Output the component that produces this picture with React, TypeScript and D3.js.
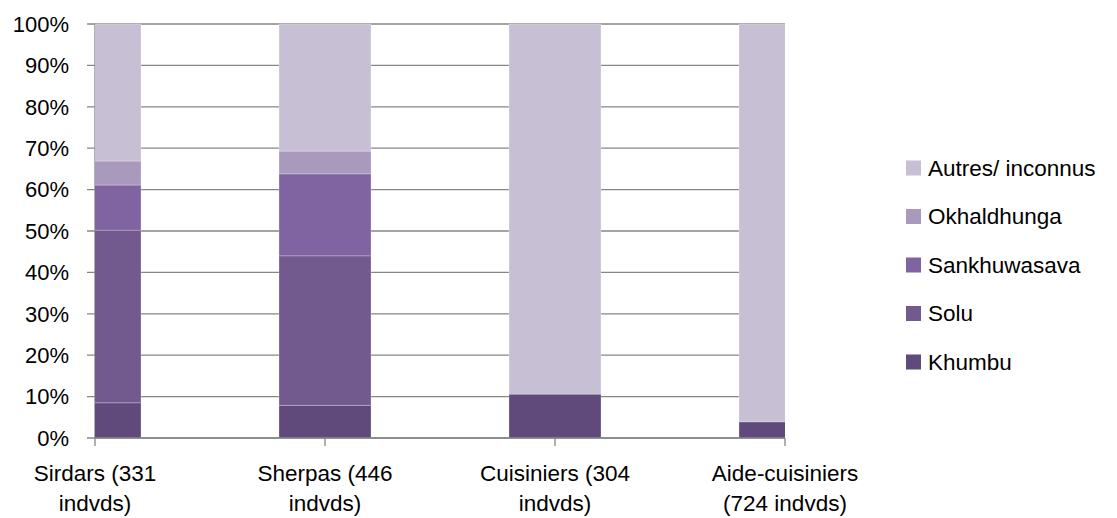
import React from "react";
import * as d3 from "d3";

const categories = ["Sirdars (331|indvds)", "Sherpas (446|indvds)", "Cuisiniers (304|indvds)", "Aide-cuisiniers|(724 indvds)"];
const seriesNames = ["Khumbu", "Solu", "Sankhuwasava", "Okhaldhunga", "Autres/ inconnus"];
const khumbu = [8.5, 7.9, 10.6, 3.9];
const solu = [41.7, 36.1, 0, 0];
const sankhuwasava = [10.9, 19.8, 0, 0];
const okhaldhunga = [5.8, 5.5, 0, 0];
const autres = [33.1, 30.7, 89.4, 96.1];
const colors = ["#604a7b", "#725a8f", "#8064a2", "#a99abd", "#c7c0d4"];
const yTicks = [0, 0.1, 0.2, 0.3, 0.4, 0.5, 0.6, 0.7, 0.8, 0.9, 1];

const W = 1117, H = 518;
const left = 95, right = 785, top = 24, bottom = 438;
const FONT = "'Liberation Sans', Arial, sans-serif";

export default function App() {
  const seriesValues = [khumbu, solu, sankhuwasava, okhaldhunga, autres];
  const rows = categories.map((c, i) => {
    const r: any = { cat: c };
    seriesNames.forEach((s, j) => (r[s] = seriesValues[j][i]));
    const total = seriesNames.reduce((a, s) => a + r[s], 0);
    seriesNames.forEach((s) => (r[s] = r[s] / total));
    return r;
  });
  const stack = d3.stack<any>().keys(seriesNames)(rows);
  const x = d3.scalePoint<string>().domain(categories).range([left, right]);
  const y = d3.scaleLinear().domain([0, 1]).range([bottom, top]);
  const step = x.step();
  const barW = step / 2.5;

  return (
    <svg width={W} height={H} style={{ position: "absolute", left: 0, top: 0, background: "#fff" }}>
      <defs>
        <clipPath id="plot">
          <rect x={left} y={top - 1} width={right - left} height={bottom - top + 2} />
        </clipPath>
      </defs>
      {yTicks.map((t) => (
        <g key={t}>
          <line x1={left - 8} x2={right} y1={y(t)} y2={y(t)} stroke="#868686" strokeWidth={1.3} />
          <text x={69} y={y(t)} dy="0.35em" textAnchor="end" fontFamily={FONT} fontSize={22} fill="#000">
            {d3.format(".0%")(t)}
          </text>
        </g>
      ))}
      <line x1={left} x2={left} y1={top} y2={bottom} stroke="#868686" strokeWidth={1.3} />
      <g clipPath="url(#plot)">
        {stack.map((s, j) => (
          <g key={s.key} fill={colors[j]}>
            {s.map((d, i) =>
              d[1] - d[0] > 0 ? (
                <rect
                  key={i}
                  x={(x(categories[i]) as number) - barW / 2}
                  y={y(d[1])}
                  width={barW}
                  height={y(d[0]) - y(d[1])}
                  stroke="rgba(255,255,255,0.3)"
                  strokeWidth={0.8}
                />
              ) : null
            )}
          </g>
        ))}
      </g>
      <line x1={left} x2={right} y1={bottom} y2={bottom} stroke="#868686" strokeWidth={1.3} />
      {categories.map((c) => {
        const cx = x(c) as number;
        const lines = c.split("|");
        return (
          <g key={c}>
            <line x1={cx} x2={cx} y1={bottom} y2={bottom + 8} stroke="#868686" strokeWidth={1.3} />
            {lines.map((l, k) => (
              <text key={k} x={cx} y={481 + k * 30} textAnchor="middle" fontFamily={FONT} fontSize={22.5} fill="#000">
                {l}
              </text>
            ))}
          </g>
        );
      })}
      {seriesNames
        .slice()
        .reverse()
        .map((s, k) => {
          const j = seriesNames.length - 1 - k;
          const cy = 168 + k * 48.5;
          return (
            <g key={s}>
              <rect x={906} y={cy - 7.5} width={15} height={15} fill={colors[j]} />
              <text x={928} y={cy} dy="0.35em" fontFamily={FONT} fontSize={22.5} fill="#000">
                {s}
              </text>
            </g>
          );
        })}
    </svg>
  );
}
